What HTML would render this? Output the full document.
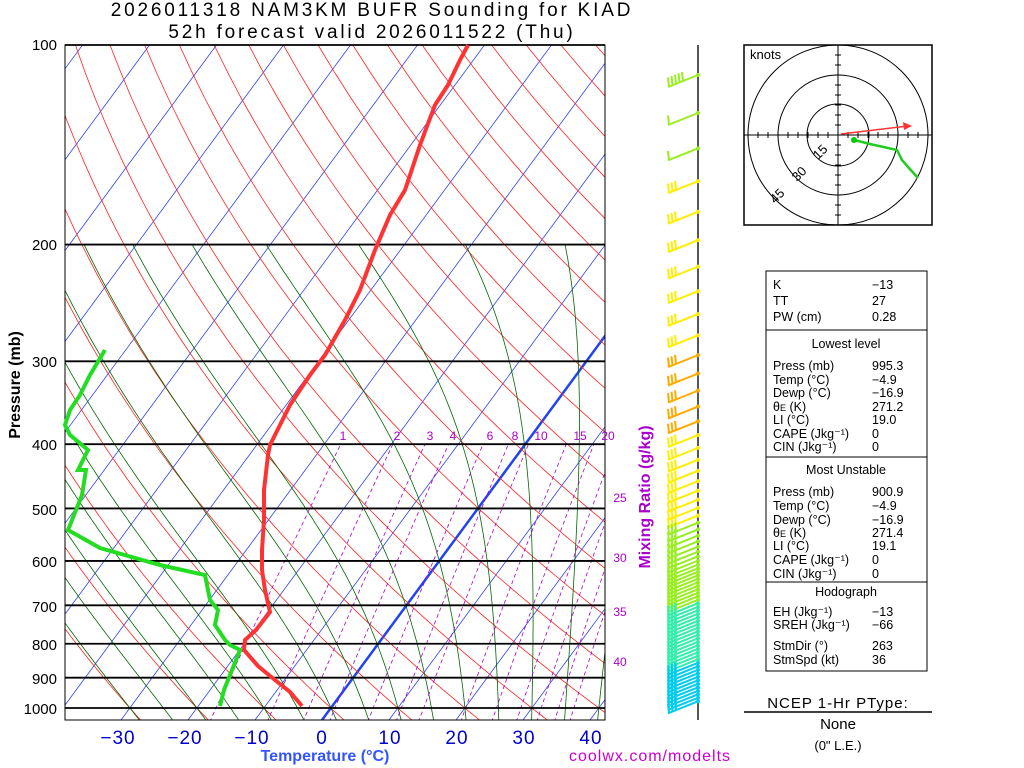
<!DOCTYPE html>
<html><head><meta charset="utf-8"><style>
body{margin:0;background:#fff;width:1024px;height:768px;overflow:hidden;font-family:"Liberation Sans",sans-serif}
svg{position:absolute;left:0;top:0}
</style></head><body>
<svg id="s" width="1024" height="768" xmlns="http://www.w3.org/2000/svg" font-family="Liberation Sans, sans-serif">
<defs><clipPath id="c"><rect x="65" y="45" width="540" height="675"/></clipPath></defs>
<g id="plot" clip-path="url(#c)"></g>
<g id="over"></g>
<text x="372" y="16" font-size="19" text-anchor="middle" letter-spacing="2.8">2026011318 NAM3KM BUFR Sounding for KIAD</text>
<text x="372" y="38" font-size="19" text-anchor="middle" letter-spacing="2.8">52h forecast valid 2026011522 (Thu)</text>
<g font-size="15" text-anchor="end">
<text x="57" y="50">100</text><text x="57" y="250">200</text><text x="57" y="367">300</text><text x="57" y="450">400</text><text x="57" y="515">500</text><text x="57" y="567">600</text><text x="57" y="612">700</text><text x="57" y="650">800</text><text x="57" y="684">900</text><text x="57" y="714">1000</text>
</g>
<text transform="translate(20,385) rotate(-90)" font-size="16" font-weight="bold" text-anchor="middle">Pressure (mb)</text>
<g font-size="19" fill="#0000cc" text-anchor="middle" letter-spacing="1">
<text x="118" y="744">−30</text><text x="185" y="744">−20</text><text x="252" y="744">−10</text><text x="322" y="744">0</text><text x="390" y="744">10</text><text x="457" y="744">20</text><text x="524" y="744">30</text><text x="591" y="744">40</text>
</g>
<text x="325" y="761" font-size="16" font-weight="bold" fill="#3355ff" text-anchor="middle">Temperature (°C)</text>
<text x="650" y="761" font-size="16" fill="#cc00cc" text-anchor="middle" letter-spacing="1">coolwx.com/modelts</text>
<text transform="translate(650,497) rotate(-90)" font-size="16" font-weight="bold" fill="#aa00cc" text-anchor="middle">Mixing Ratio (g/kg)</text>
<g font-size="12" fill="#aa00cc" text-anchor="middle">
<text x="343" y="440">1</text><text x="397" y="440">2</text><text x="430" y="440">3</text><text x="453" y="440">4</text><text x="490" y="440">6</text><text x="515" y="440">8</text><text x="541" y="440">10</text><text x="580" y="440">15</text><text x="608" y="440">20</text>
<text x="620" y="502">25</text><text x="620" y="562">30</text><text x="620" y="616">35</text><text x="620" y="666">40</text>
</g>
<line x1="698" y1="45" x2="698" y2="720" stroke="#555" stroke-width="2"/>
<g id="barbs"></g>
<rect x="744" y="45" width="188" height="180" fill="#fff" stroke="#000" stroke-width="1.5"/>
<g fill="none" stroke="#000">
<circle cx="838" cy="135" r="31"/><circle cx="838" cy="135" r="60"/><circle cx="838" cy="135" r="90"/>
<line x1="744" y1="135" x2="932" y2="135"/><line x1="838" y1="45" x2="838" y2="225"/>
</g>
<g id="hticks" stroke="#000"></g>
<text x="750" y="59" font-size="13">knots</text>
<text x="816" y="161" font-size="13" transform="rotate(-45 816 158)">15</text>
<text x="795" y="183" font-size="13" transform="rotate(-45 795 180)">30</text>
<text x="773" y="205" font-size="13" transform="rotate(-45 773 202)">45</text>
<line x1="841" y1="134" x2="908" y2="126" stroke="#ff3333" stroke-width="1.5"/>
<polygon points="912,126 903,122 904,130" fill="#ff3333"/>
<polyline points="854,140 870,144 897,150 902,160 908,167 918,178" fill="none" stroke="#22cc22" stroke-width="2.5"/>
<circle cx="854" cy="140" r="3" fill="#00cc00"/>
<g font-size="12.5">
<rect x="766" y="271" width="161" height="400" fill="none" stroke="#000"/>
<line x1="766" y1="330" x2="927" y2="330" stroke="#000"/>
<line x1="766" y1="457" x2="927" y2="457" stroke="#000"/>
<line x1="766" y1="582" x2="927" y2="582" stroke="#000"/>
<text x="773" y="289">K</text><text x="872" y="289">−13</text>
<text x="773" y="305">TT</text><text x="872" y="305">27</text>
<text x="773" y="321">PW (cm)</text><text x="872" y="321">0.28</text>
<text x="846" y="348" text-anchor="middle">Lowest level</text>
<text x="773" y="370">Press (mb)</text><text x="872" y="370">995.3</text>
<text x="773" y="384">Temp (°C)</text><text x="872" y="384">−4.9</text>
<text x="773" y="397">Dewp (°C)</text><text x="872" y="397">−16.9</text>
<text x="773" y="411">θ<tspan font-size="9">E</tspan> (K)</text><text x="872" y="411">271.2</text>
<text x="773" y="424">LI (°C)</text><text x="872" y="424">19.0</text>
<text x="773" y="438">CAPE (Jkg⁻¹)</text><text x="872" y="438">0</text>
<text x="773" y="451">CIN (Jkg⁻¹)</text><text x="872" y="451">0</text>
<text x="846" y="474" text-anchor="middle">Most Unstable</text>
<text x="773" y="496">Press (mb)</text><text x="872" y="496">900.9</text>
<text x="773" y="510">Temp (°C)</text><text x="872" y="510">−4.9</text>
<text x="773" y="524">Dewp (°C)</text><text x="872" y="524">−16.9</text>
<text x="773" y="537">θ<tspan font-size="9">E</tspan> (K)</text><text x="872" y="537">271.4</text>
<text x="773" y="550">LI (°C)</text><text x="872" y="550">19.1</text>
<text x="773" y="564">CAPE (Jkg⁻¹)</text><text x="872" y="564">0</text>
<text x="773" y="578">CIN (Jkg⁻¹)</text><text x="872" y="578">0</text>
<text x="846" y="596" text-anchor="middle">Hodograph</text>
<text x="773" y="616">EH (Jkg⁻¹)</text><text x="872" y="616">−13</text>
<text x="773" y="629">SREH (Jkg⁻¹)</text><text x="872" y="629">−66</text>
<text x="773" y="650">StmDir (°)</text><text x="872" y="650">263</text>
<text x="773" y="664">StmSpd (kt)</text><text x="872" y="664">36</text>
</g>
<text x="838" y="708" font-size="15" text-anchor="middle" letter-spacing="1">NCEP 1-Hr PType:</text>
<line x1="744" y1="712" x2="932" y2="712" stroke="#000" stroke-width="1.5"/>
<text x="838" y="729" font-size="15" text-anchor="middle">None</text>
<text x="838" y="750" font-size="13" text-anchor="middle">(0" L.E.)</text>
</svg>
<script>
(function(){
var NS="http://www.w3.org/2000/svg";
function el(p,t,a){var e=document.createElementNS(NS,t);for(var k in a)e.setAttribute(k,a[k]);p.appendChild(e);return e;}
var g=document.getElementById("plot"),ov=document.getElementById("over");
function Y(p){return 45+(Math.log10(p)-2)*663;}
function X(T,y){return 322+6.7*T+0.737*(720-y);}
function line(pts,col,w,dash,par){el(par||g,"polyline",{points:pts.map(function(q){return q[0].toFixed(1)+","+q[1].toFixed(1)}).join(" "),fill:"none",stroke:col,"stroke-width":w,"stroke-dasharray":dash||"none"});}
var ps=[];for(var p=1050;p>=100;p-=10)ps.push(p);
for(var T=-160;T<=50;T+=10){var y1=720,y2=45;line([[X(T,y1),y1],[X(T,y2),y2]],T==0?"#2244ee":"#3344ee",T==0?2.5:0.8);}
for(var th=-30;th<=250;th+=10){var th0=th+273.15;var pts=ps.map(function(p){var y=Y(p);return [X(th0*Math.pow(p/1000,0.286)-273.15,y),y];});line(pts,"#ff2222",0.8);}
function es(T){return 6.112*Math.exp(17.67*T/(T+243.5));}
function gm(T,p){var Tk=T+273.15;var r=0.622*es(T)/(p-es(T));var L=2.5e6,Rd=287,cp=1004;
return (Rd*Tk+L*r)/(cp+L*L*r*0.622/(Rd*Tk*Tk))/p;}
for(var T0=-30;T0<=40;T0+=5){var Tt=T0;for(var pp=1000;pp<1050;pp+=5){Tt+=gm(Tt,pp)*5;}
var T=Tt,pts=[];for(p=1050;p>=200;p-=5){var y=Y(p);pts.push([X(T,y),y]);T-=gm(T,p)*5;}
line(pts,"#006600",0.8);}
[1,2,3,4,6,8,10,15,20,25,30,35,40].forEach(function(w){var pts=[];for(var p=1050;p>=400;p-=10){var e=w*p/(622+w),l=Math.log(e/6.112);var Td=243.5*l/(17.67-l);var y=Y(p);pts.push([X(Td,y),y]);}line(pts,"#aa00cc",0.8,"4,3");});
[100,200,300,400,500,600,700,800,900,1000].forEach(function(p){var y=Y(p);el(ov,"line",{x1:65,x2:605,y1:y,y2:y,stroke:"#000","stroke-width":1.8});});
el(ov,"rect",{x:65,y:45,width:540,height:675,fill:"none",stroke:"#000","stroke-width":1});
var tp=[[302,706],[290,692],[275,680],[258,666],[244,650],[245,640],[256,630],[270,612],[265,590],[262,570],[262,550],[264,520],[264,490],[268,455],[270,445],[280,425],[290,405],[300,390],[310,375],[325,355],[345,320],[360,290],[375,250],[390,215],[405,190],[420,145],[435,105],[448,85],[460,60],[468,45]];
line(tp,"#ff3333",4,null,ov);
var dp=[[220,706],[224,690],[232,670],[240,650],[230,645],[225,640],[215,625],[218,610],[210,600],[205,575],[160,565],[100,548],[68,530],[82,495],[86,470],[78,470],[88,450],[70,435],[65,425],[70,410],[80,395],[90,375],[105,350]];
line(dp,"#22dd22",4,null,ov);
var b=document.getElementById("barbs");var y=75,s=38;
function col(y){if(y<180)return "#99ee22";if(y<350)return "#ffee00";if(y<425)return "#ffaa00";if(y<520)return "#ffee00";if(y<600)return "#99ee22";if(y<660)return "#33eeaa";return "#00ccee";}
while(y<702){var c=col(y);el(b,"line",{x1:698,y1:y,x2:668,y2:y+12,stroke:c,"stroke-width":2});
var n=y<80?5:(y<150?1:3);for(var i=0;i<n;i++){var bx=669+i*3.5,by=y+11.5-i*1.4;el(b,"line",{x1:bx,y1:by,x2:bx-1,y2:by-9,stroke:c,"stroke-width":2});}
el(b,"circle",{cx:698,cy:y,r:2,fill:c});
y+=s;s=Math.max(s*0.93,3.5);}
var h=document.getElementById("hticks");
for(var d=-90;d<=90;d+=10){if(d==0)continue;el(h,"line",{x1:838+d,x2:838+d,y1:132,y2:138});el(h,"line",{y1:135+d,y2:135+d,x1:835,x2:841});}
})();
</script>
</body></html>
